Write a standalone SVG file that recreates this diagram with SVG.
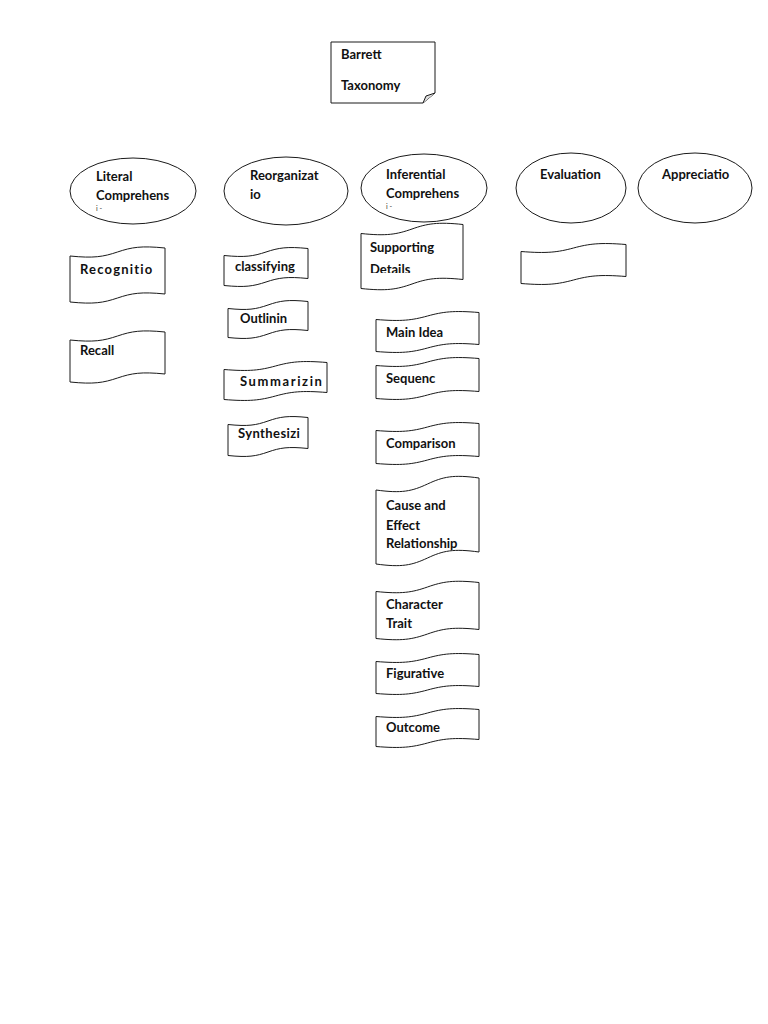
<svg xmlns="http://www.w3.org/2000/svg" width="768" height="1024" viewBox="0 0 768 1024">
<style>
.s{fill:#fff;stroke:#1a1a1a;stroke-width:1}
.t{font-family:Lato,"Open Sans","Liberation Sans",sans-serif;font-weight:700;font-size:13px;fill:#111}
.tiny{font-family:Lato,"Liberation Sans",sans-serif;font-size:7px;fill:#333}
</style>
<defs>
<clipPath id="cSup"><rect x="360" y="230" width="105" height="43"/></clipPath>
</defs>
<rect width="768" height="1024" fill="#fff"/>
<g id="connectors"></g>

<g id="barrett">
<path class="s" d="M331,42 H435 V93 L423,103 H331 Z"/>
<path d="M423,103 L426,96 L435,93" fill="#ddd" stroke="#1a1a1a" stroke-width="1"/>
<text class="t" x="341" y="59">Barrett</text>
<text class="t" x="341" y="90">Taxonomy</text>
</g>

<g id="literal">
<ellipse class="s" cx="133" cy="191" rx="63" ry="33"/>
<text class="t" x="96" y="181">Literal</text>
<text class="t" x="96" y="200">Comprehens</text>
<text class="tiny" x="96" y="211">i -</text>
</g>
<g id="reorganization">
<ellipse class="s" cx="286" cy="191" rx="62" ry="34"/>
<text class="t" x="250" y="180">Reorganizat</text>
<text class="t" x="250" y="199">io</text>
</g>
<g id="inferential">
<ellipse class="s" cx="424" cy="188" rx="63" ry="34"/>
<text class="t" x="386" y="179">Inferential</text>
<text class="t" x="386" y="198">Comprehens</text>
<text class="tiny" x="386" y="209">i -</text>
</g>
<g id="evaluation">
<ellipse class="s" cx="571" cy="188" rx="55" ry="35"/>
<text class="t" x="540" y="179">Evaluation</text>
</g>
<g id="appreciation">
<ellipse class="s" cx="695" cy="188" rx="57" ry="35"/>
<text class="t" x="662" y="179">Appreciatio</text>
</g>

<g id="recognition">
<path class="s" transform="translate(70,252)" d="M0,4 C23.75,6.4 33.25,4.8 47.5,0 C61.75,-4.8 71.25,-6.4 95,-4 L95,42 C71.25,39.6 61.75,41.2 47.5,46 C33.25,50.8 23.75,52.4 0,50 Z"/>
<text class="t" x="80" y="274" letter-spacing="1.2">Recognitio</text>
</g>
<g id="recall">
<path class="s" transform="translate(70,336)" d="M0,4 C23.75,6.4 33.25,4.8 47.5,0 C61.75,-4.8 71.25,-6.4 95,-4 L95,38 C71.25,35.6 61.75,37.2 47.5,42 C33.25,46.8 23.75,48.4 0,46 Z"/>
<text class="t" x="80" y="355">Recall</text>
</g>

<g id="classifying">
<path class="s" transform="translate(224,252)" d="M0,3.5 C21,5.6 29.4,4.2 42,0 C54.6,-4.2 63,-5.6 84,-3.5 L84,26.5 C63,24.4 54.6,25.8 42,30 C29.4,34.2 21,35.6 0,33.5 Z"/>
<text class="t" x="235" y="271">classifying</text>
</g>
<g id="outlining">
<path class="s" transform="translate(228,305)" d="M0,3.5 C20,5.6 28,4.2 40,0 C52,-4.2 60,-5.6 80,-3.5 L80,25.5 C60,23.4 52,24.8 40,29 C28,33.2 20,34.6 0,32.5 Z"/>
<text class="t" x="240" y="323">Outlinin</text>
</g>
<g id="summarizing">
<path class="s" transform="translate(224,366)" d="M0,3.5 C25.75,5.6 36.05,4.2 51.5,0 C66.95,-4.2 77.25,-5.6 103,-3.5 L103,26.5 C77.25,24.4 66.95,25.8 51.5,30 C36.05,34.2 25.75,35.6 0,33.5 Z"/>
<text class="t" x="240" y="386" letter-spacing="1.6">Summarizin</text>
</g>
<g id="synthesizing">
<path class="s" transform="translate(228,421)" d="M0,3.5 C20,5.6 28,4.2 40,0 C52,-4.2 60,-5.6 80,-3.5 L80,27.5 C60,25.4 52,26.8 40,31 C28,35.2 20,36.6 0,34.5 Z"/>
<text class="t" x="238" y="438" letter-spacing="0.4">Synthesizi</text>
</g>

<g id="supporting">
<path class="s" transform="translate(361,229)" d="M0,4.5 C25.5,7.2 35.7,5.4 51,0 C66.3,-5.4 76.5,-7.2 102,-4.5 L102,50.5 C76.5,47.8 66.3,49.6 51,55 C35.7,60.4 25.5,62.2 0,59.5 Z"/>
<g clip-path="url(#cSup)">
<text class="t" x="370" y="252">Supporting</text>
<text class="t" x="370" y="274">Details</text>
</g>
</g>
<g id="mainidea">
<path class="s" transform="translate(376,316)" d="M0,3.5 C25.75,5.6 36.05,4.2 51.5,0 C66.95,-4.2 77.25,-5.6 103,-3.5 L103,28.5 C77.25,26.4 66.95,27.8 51.5,32 C36.05,36.2 25.75,37.6 0,35.5 Z"/>
<text class="t" x="386" y="337">Main Idea</text>
</g>
<g id="sequence">
<path class="s" transform="translate(376,362)" d="M0,3.5 C25.75,5.6 36.05,4.2 51.5,0 C66.95,-4.2 77.25,-5.6 103,-3.5 L103,29.5 C77.25,27.4 66.95,28.8 51.5,33 C36.05,37.2 25.75,38.6 0,36.5 Z"/>
<text class="t" x="386" y="383">Sequenc</text>
</g>
<g id="comparison">
<path class="s" transform="translate(376,427)" d="M0,3.5 C25.75,5.6 36.05,4.2 51.5,0 C66.95,-4.2 77.25,-5.6 103,-3.5 L103,29.5 C77.25,27.4 66.95,28.8 51.5,33 C36.05,37.2 25.75,38.6 0,36.5 Z"/>
<text class="t" x="386" y="448">Comparison</text>
</g>
<g id="cause">
<path class="s" transform="translate(376,484)" d="M0,6 C25.75,9.6 36.05,7.2 51.5,0 C66.95,-7.2 77.25,-9.6 103,-6 L103,68 C77.25,64.4 66.95,66.8 51.5,74 C36.05,81.2 25.75,83.6 0,80 Z"/>
<text class="t" x="386" y="510">Cause and</text>
<text class="t" x="386" y="530">Effect</text>
<text class="t" x="386" y="548">Relationship</text>
</g>
<g id="character">
<path class="s" transform="translate(376,587)" d="M0,4.5 C25.75,7.2 36.05,5.4 51.5,0 C66.95,-5.4 77.25,-7.2 103,-4.5 L103,42.5 C77.25,39.8 66.95,41.6 51.5,47 C36.05,52.4 25.75,54.2 0,51.5 Z"/>
<text class="t" x="386" y="609">Character</text>
<text class="t" x="386" y="628">Trait</text>
</g>
<g id="figurative">
<path class="s" transform="translate(376,658)" d="M0,3.5 C25.75,5.6 36.05,4.2 51.5,0 C66.95,-4.2 77.25,-5.6 103,-3.5 L103,28.5 C77.25,26.4 66.95,27.8 51.5,32 C36.05,36.2 25.75,37.6 0,35.5 Z"/>
<text class="t" x="386" y="678">Figurative</text>
</g>
<g id="outcome">
<path class="s" transform="translate(376,713)" d="M0,3.5 C25.75,5.6 36.05,4.2 51.5,0 C66.95,-4.2 77.25,-5.6 103,-3.5 L103,26.5 C77.25,24.4 66.95,25.8 51.5,30 C36.05,34.2 25.75,35.6 0,33.5 Z"/>
<text class="t" x="386" y="732">Outcome</text>
</g>

<g id="evaluation-item">
<path class="s" transform="translate(521,248)" d="M0,3.5 C26.25,5.6 36.75,4.2 52.5,0 C68.25,-4.2 78.75,-5.6 105,-3.5 L105,28.5 C78.75,26.4 68.25,27.8 52.5,32 C36.75,36.2 26.25,37.6 0,35.5 Z"/>
</g>
</svg>
